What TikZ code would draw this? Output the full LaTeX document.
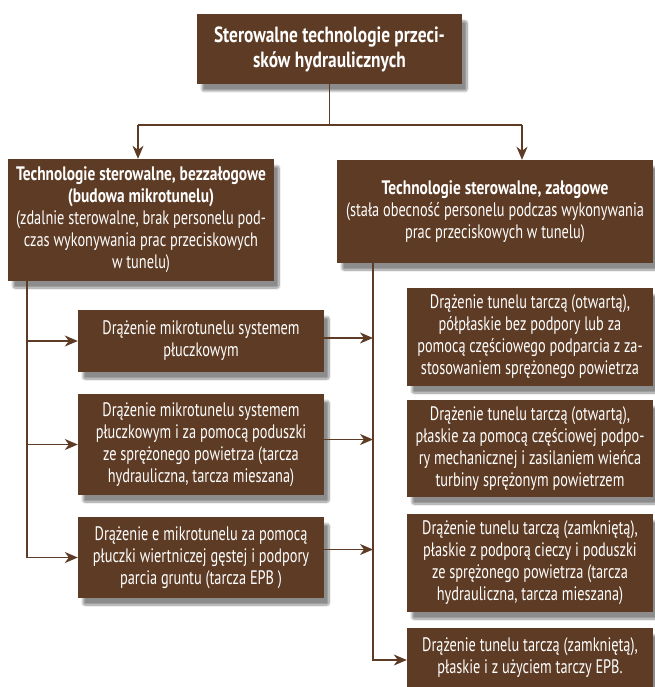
\documentclass[tikz,border=0pt]{standalone}
\usepackage{fontspec}
\setmainfont{PT Sans}[FakeStretch=0.735, BoldFeatures={FakeStretch=0.79}]
\usepackage{tikz}
\usetikzlibrary{arrows.meta}
\usetikzlibrary{shadows.blur}

\definecolor{braz}{HTML}{5E3B24}

\tikzset{
    blok/.style={fill=braz, text=white, align=center, inner sep=0pt,
        font=\fontsize{19.5}{22}\selectfont,
        blur shadow={shadow xshift=5pt, shadow yshift=-7pt,
            shadow blur steps=10, shadow blur extra rounding=2pt, shadow opacity=45}},
    linia/.style={draw=braz, line width=1.4pt},
    strz/.style={linia, -{Stealth[length=13pt, width=11pt, inset=4pt]}}
}

\begin{document}
\begin{tikzpicture}[x=1pt, y=-1pt]
    \useasboundingbox (0,0) rectangle (654,687);

    % Kategoria glowna
    \node[blok, minimum width=265pt, minimum height=70pt,
        font=\bfseries\fontsize{22}{25}\selectfont] (top) at (329.5,49)
        {Sterowalne technologie przeci-\\sków hydraulicznych};

    % Dwie grupy technologii
    \node[blok, minimum width=266pt, minimum height=122pt] (bezz) at (141,220)
        {\textbf{Technologie sterowalne, bezzałogowe}\\
         \textbf{(budowa mikrotunelu)}\\
         (zdalnie sterowalne, brak personelu pod-\\
         czas wykonywania prac przeciskowych\\
         w tunelu)};
    \node[blok, minimum width=316pt, minimum height=103pt] (zal) at (495,211.5)
        {\textbf{Technologie sterowalne, załogowe}\\
         (stała obecność personelu podczas wykonywania\\
         prac przeciskowych w tunelu)};

    % Mikrotunele
    \node[blok, minimum width=246pt, minimum height=62pt] (m1) at (201,341)
        {Drążenie mikrotunelu systemem\\płuczkowym};
    \node[blok, minimum width=246pt, minimum height=101pt] (m2) at (201,444.5)
        {Drążenie mikrotunelu systemem\\płuczkowym i za pomocą poduszki\\
         ze sprężonego powietrza (tarcza\\hydrauliczna, tarcza mieszana)};
    \node[blok, minimum width=246pt, minimum height=81pt] (m3) at (201,557.5)
        {Drążenie e mikrotunelu za pomocą\\płuczki wiertniczej gęstej i podpory\\
         parcia gruntu (tarcza EPB )};

    % Tunele z personelem
    \node[blok, minimum width=246pt, minimum height=98pt] (t1) at (530,337)
        {Drążenie tunelu tarczą (otwartą),\\półpłaskie bez podpory lub za\\
         pomocą częściowego podparcia z za-\\stosowaniem sprężonego powietrza};
    \node[blok, minimum width=246pt, minimum height=97pt] (t2) at (530,448.5)
        {Drążenie tunelu tarczą (otwartą),\\płaskie za pomocą częściowej podpo-\\
         ry mechanicznej i zasilaniem wieńca\\turbiny sprężonym powietrzem};
    \node[blok, minimum width=246pt, minimum height=98pt] (t3) at (530,563)
        {Drążenie tunelu tarczą (zamkniętą),\\płaskie z podporą cieczy i poduszki\\
         ze sprężonego powietrza (tarcza\\hydrauliczna, tarcza mieszana)};
    \node[blok, minimum width=246pt, minimum height=60pt] (t4) at (530,658)
        {Drążenie tunelu tarczą (zamkniętą),\\płaskie i z użyciem tarczy EPB.};

    % Rozgalezienie od gory
    \coordinate (jl) at (138,125);
    \coordinate (jr) at (522,125);
    \draw[linia] (top.south) -- (top.south |- jl);
    \draw[linia] (jl) -- (jr);
    \draw[strz] (jl) -- (jl |- bezz.north);
    \draw[strz] (jr) -- (jr |- zal.north);

    % Pnie pionowe
    \coordinate (lp) at (27,0);
    \coordinate (pp) at (373,0);
    \draw[strz] (bezz.south -| lp) |- (m3.west);
    \draw[strz] (lp |- m1.west) -- (m1.west);
    \draw[strz] (lp |- m2.west) -- (m2.west);
    \draw[strz] (zal.south -| pp) |- ([yshift=-2pt]t4.west);

    % Strzalki do pnia prawego
    \draw[strz] ([yshift=3pt]m1.east) -- ([yshift=3pt]m1.east -| pp);
    \draw[strz] ([yshift=5pt]m2.east) -- ([yshift=5pt]m2.east -| pp);
    \draw[strz] ([yshift=8pt]m3.east) -- ([yshift=8pt]m3.east -| pp);
\end{tikzpicture}
\end{document}
